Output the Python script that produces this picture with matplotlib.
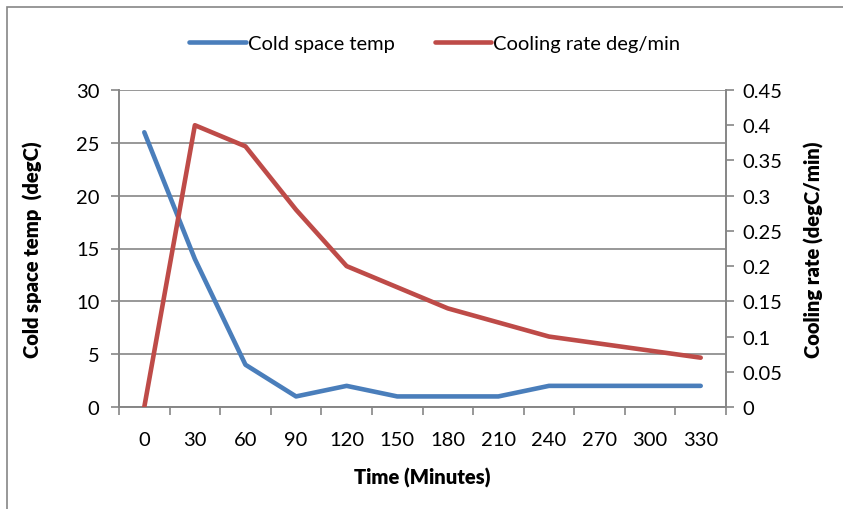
import matplotlib.pyplot as plt
from matplotlib.ticker import MultipleLocator, FixedLocator

plt.rcParams['font.family'] = ['Lato', 'DejaVu Sans']

# data
minutes = [0, 30, 60, 90, 120, 150, 180, 210, 240, 270, 300, 330]
temp = [26, 14, 4, 1, 2, 1, 1, 1, 2, 2, 2, 2]
rate = [0, 0.4, 0.37, 0.28, 0.2, 0.17, 0.14, 0.12, 0.1, 0.09, 0.08, 0.07]
rate_labels = ['0', '0.05', '0.1', '0.15', '0.2', '0.25', '0.3', '0.35', '0.4', '0.45']

blue = '#4A7EBB'
red = '#BE4B48'
grey = '#868686'
fs = 14.5

fig = plt.figure(figsize=(8.43, 5.10), dpi=100)
# outer chart border
fig.patches.append(plt.Rectangle((7 / 843, -0.1), 1.2, (510 - 8) / 510 + 0.1,
                                 transform=fig.transFigure, fill=False,
                                 edgecolor=grey, linewidth=1.2))

ax = fig.add_axes([119 / 843, 0.2, (726 - 119) / 843, (408 - 91) / 510])
ax2 = ax.twinx()

l1, = ax.plot(minutes, temp, color=blue, linewidth=3.3, solid_capstyle='round',
              label='Cold space temp', zorder=3)
l2, = ax2.plot(minutes, rate, color=red, linewidth=3.3, solid_capstyle='round',
               label='Cooling rate deg/min', zorder=3)

ax.set_xlim(-15, 345)
ax.set_ylim(0, 30)
ax2.set_ylim(0, 0.45)

ax.set_xticks(minutes)
ax.xaxis.set_minor_locator(FixedLocator([m + 15 for m in [-30] + minutes]))
ax.tick_params(axis='x', which='major', length=0, pad=17, labelsize=fs)
ax.tick_params(axis='x', which='minor', length=6, color=grey, width=1.2)
ax.yaxis.set_major_locator(MultipleLocator(5))
ax.tick_params(axis='y', length=6, color=grey, width=1.2, labelsize=fs, pad=8)
ax2.set_yticks([i * 0.05 for i in range(len(rate_labels))])
ax2.set_yticklabels(rate_labels)
ax2.tick_params(axis='y', length=6, color=grey, width=1.2, labelsize=fs, pad=6)

ax.grid(axis='y', color=grey, linewidth=1.2)
for a in (ax, ax2):
    for s in a.spines.values():
        s.set_color(grey)
        s.set_linewidth(1.2)
    a.spines['top'].set_visible(False)

ax.set_xlabel('Time (Minutes)', fontsize=fs, fontweight='heavy', labelpad=14)
ax.set_ylabel('Cold space temp  (degC)', fontsize=fs, fontweight='heavy', labelpad=24)
ax2.set_ylabel('Cooling rate (degC/min)', fontsize=fs, fontweight='heavy', labelpad=15)

fig.legend(handles=[l1, l2], loc='center', bbox_to_anchor=(435 / 843, 1 - 44 / 510),
           ncol=2, frameon=False, fontsize=fs, handlelength=2.8, handletextpad=0.1,
           columnspacing=2.0)

fig.savefig('out.png', dpi=100)
